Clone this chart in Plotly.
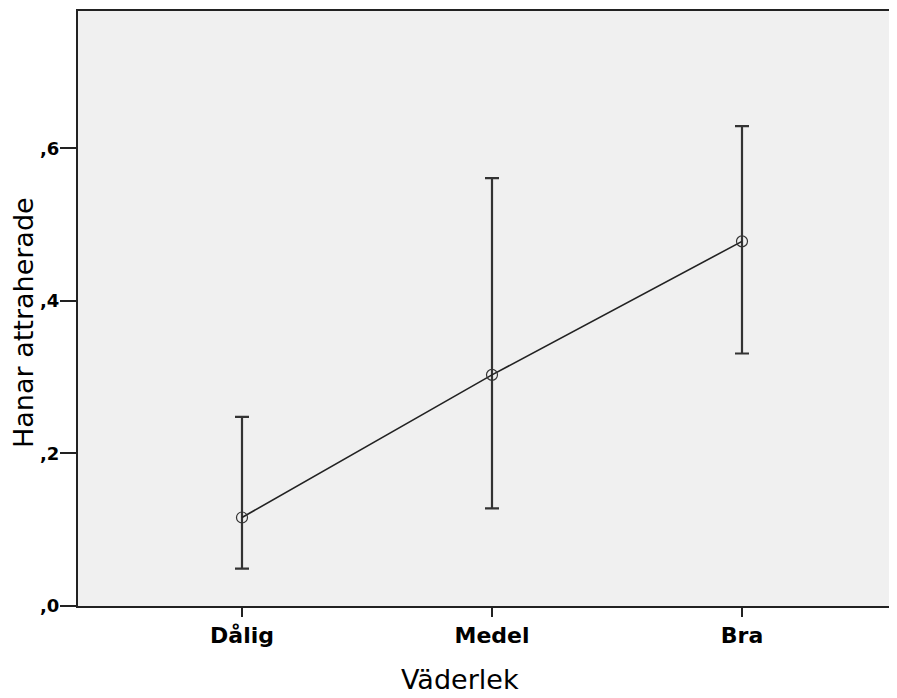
import plotly.graph_objects as go

categories = ["Dålig", "Medel", "Bra"]
means = [0.116, 0.303, 0.478]
upper = [0.248, 0.561, 0.629]
lower = [0.049, 0.128, 0.331]
ytick_vals = [0.0, 0.2, 0.4, 0.6]
ytick_text = [",0", ",2", ",4", ",6"]
x_title = "Väderlek"
y_title = "Hanar attraherade"

err_plus = [u - m for u, m in zip(upper, means)]
err_minus = [m - l for m, l in zip(means, lower)]
xpos = list(range(len(categories)))

fig = go.Figure()
fig.add_trace(go.Scatter(
    x=xpos, y=means, mode="lines+markers",
    line=dict(color="#222222", width=1.6),
    marker=dict(symbol="circle-open", size=11, color="#333333", line=dict(width=1.2)),
    error_y=dict(type="data", symmetric=False, array=err_plus, arrayminus=err_minus,
                 color="#333333", thickness=2.2, width=7),
    showlegend=False,
))

fig.update_layout(
    width=889, height=690,
    margin=dict(l=70, r=0, t=3, b=92),
    paper_bgcolor="white", plot_bgcolor="#f0f0f0",
    font=dict(family="DejaVu Sans", color="black"),
    annotations=[
        dict(text=x_title, xref="paper", yref="paper", x=0.4664, y=0,
             xanchor="center", yanchor="bottom", yshift=-91, showarrow=False,
             font=dict(size=27, color="black")),
        dict(text=y_title, xref="paper", yref="paper", x=0, y=0.4756,
             xanchor="center", yanchor="middle", xshift=-55, textangle=-90,
             showarrow=False, font=dict(size=27, color="black")),
    ],
)
fig.update_xaxes(
    range=[-0.656, 2.62], tickvals=xpos, ticktext=categories,
    ticks="outside", ticklen=9, tickwidth=1.5, tickcolor="#222",
    showline=True, linecolor="#222", linewidth=2, mirror=True,
    showgrid=False, zeroline=False,
    tickfont=dict(size=22, weight="bold"),
)
fig.update_yaxes(
    range=[0, 0.78], tickvals=ytick_vals, ticktext=ytick_text,
    ticks="outside", ticklen=16, tickwidth=1.5, tickcolor="#222",
    showline=True, linecolor="#222", linewidth=2, mirror=False,
    showgrid=False, zeroline=False, ticklabelstandoff=-3,
    tickfont=dict(size=18, weight="bold"),
)
fig.write_html("out.html")
